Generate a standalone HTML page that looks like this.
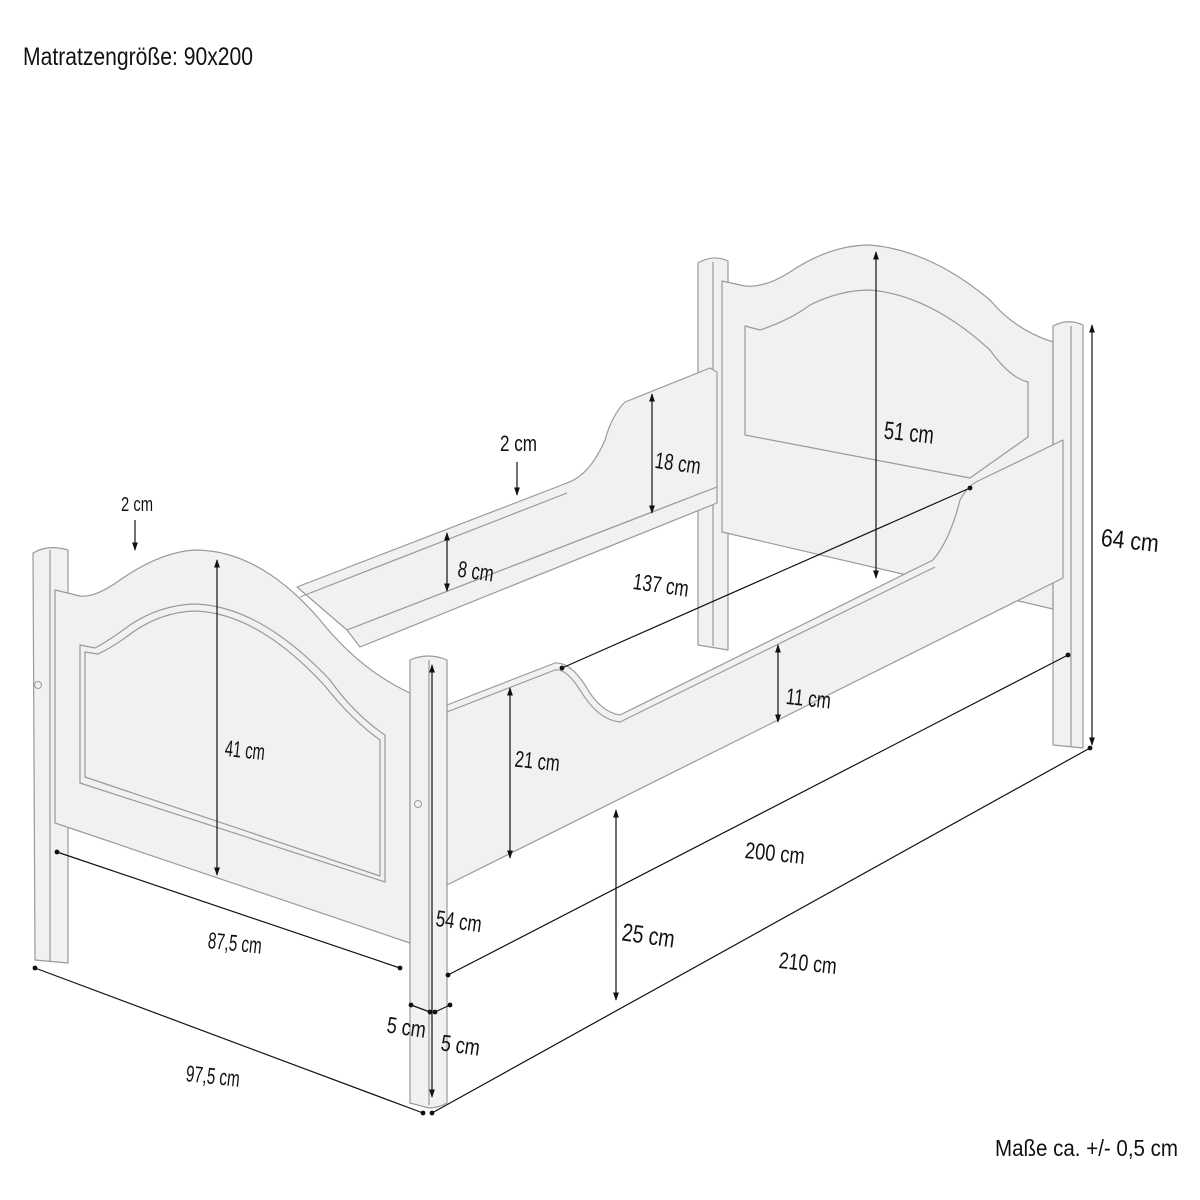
<!DOCTYPE html>
<html><head><meta charset="utf-8"><style>
html,body{margin:0;padding:0;background:#fff;}
svg{display:block;}
text{font-family:"Liberation Sans",sans-serif;fill:#111;}
</style></head><body>
<svg width="1200" height="1200" viewBox="0 0 1200 1200" xmlns="http://www.w3.org/2000/svg">
<defs>
<marker id="a" viewBox="0 0 10 10" refX="9" refY="5" markerWidth="7" markerHeight="7" orient="auto-start-reverse"><path d="M0,1.5 L10,5 L0,8.5 z" fill="#111"/></marker>
<marker id="d" viewBox="0 0 10 10" refX="5" refY="5" markerWidth="5" markerHeight="5"><circle cx="5" cy="5" r="4" fill="#111"/></marker>
</defs>
<rect width="1200" height="1200" fill="#fff"/>
<text x="23" y="65" font-size="25" textLength="230" lengthAdjust="spacingAndGlyphs">Matratzengröße: 90x200</text>
<text x="1178" y="1156" font-size="23" text-anchor="end" textLength="183" lengthAdjust="spacingAndGlyphs">Maße ca. +/- 0,5 cm</text>

<g fill="#f1f1f1" stroke="#9a9a9a" stroke-width="1.2" stroke-linejoin="round">
<path d="M698,263 Q713,254 728,261 L728,650 L698,645 Z"/>
<line x1="713" y1="262" x2="713" y2="646"/>
<path d="M722,281 L745,286 Q765,288 790,272 Q830,245 870,245 Q930,250 990,300 Q1015,330 1053,342 L1053,609 L722,532 Z"/>
<path d="M745,326 L760,330 Q790,320 810,305 Q840,290 870,290 Q930,295 990,350 Q1010,378 1028,382 L1028,437 L970,478 L745,435 Z" fill="none"/>
<path d="M1053,326 Q1068,318 1083,325 L1083,748 L1053,745 Z"/>
<line x1="1071" y1="326" x2="1071" y2="746"/>
<path d="M297,587 L567,483 Q590,475 605,440 Q612,415 625,402 L710,368 L717,372 L717,487 L347,630 Z"/>
<path d="M347,630 L717,487 L717,503 L360,647 Z"/>
<line x1="300" y1="597" x2="567" y2="493" />
<path d="M33,553 Q48,544 68,550 L68,963 L35,960 Z"/>
<line x1="50" y1="550" x2="50" y2="962"/>
<path d="M55,590 L80,596 Q95,598 120,580 Q160,552 195,550 Q260,550 320,620 Q360,670 410,693 L410,943 L55,823 Z"/>
<path d="M80,645 L95,648 Q110,640 130,625 Q160,605 195,604 Q260,606 330,680 Q355,715 385,735 L385,882 L80,783 Z" fill="none"/>
<path d="M85,652 L98,654 Q115,646 133,632 Q162,612 195,611 Q258,613 325,686 Q352,720 380,740 L380,876 L85,777 Z" fill="none"/>
<path d="M447,705 L555,663 Q570,662 585,685 Q600,712 620,715 L933,560 Q950,540 960,500 Q968,485 980,480 L1063,440 L1063,578 L447,885 Z"/>
<path d="M447,712 L555,670 Q566,668 580,690 Q598,720 620,722 L935,567" fill="none"/>
<path d="M410,660 Q428,652 447,660 L447,1103 Q438,1108 429,1108 L410,1103 Z"/>
<line x1="429" y1="660" x2="429" y2="1105"/>
</g>
<circle cx="38" cy="685" r="3.5" fill="none" stroke="#999"/>
<circle cx="418" cy="804" r="3.5" fill="none" stroke="#999"/>

<g stroke="#111" stroke-width="1.2" fill="none">
<line x1="135" y1="520" x2="135" y2="550" marker-end="url(#a)"/>
<line x1="517" y1="462" x2="517" y2="495" marker-end="url(#a)"/>
<line x1="217" y1="560" x2="217" y2="875" marker-start="url(#a)" marker-end="url(#a)"/>
<line x1="57" y1="852" x2="400" y2="968" marker-start="url(#d)" marker-end="url(#d)"/>
<line x1="35" y1="968" x2="423" y2="1113" marker-start="url(#d)" marker-end="url(#d)"/>
<line x1="432" y1="665" x2="432" y2="1097" marker-start="url(#a)" marker-end="url(#a)"/>
<line x1="411" y1="1005" x2="430" y2="1012" marker-start="url(#d)" marker-end="url(#d)"/>
<line x1="435" y1="1012" x2="450" y2="1005" marker-start="url(#d)" marker-end="url(#d)"/>
<line x1="432" y1="1113" x2="1090" y2="748" marker-start="url(#d)" marker-end="url(#d)"/>
<line x1="448" y1="975" x2="1068" y2="655" marker-start="url(#d)" marker-end="url(#d)"/>
<line x1="616" y1="810" x2="616" y2="1000" marker-start="url(#a)" marker-end="url(#a)"/>
<line x1="510" y1="688" x2="510" y2="858" marker-start="url(#a)" marker-end="url(#a)"/>
<line x1="778" y1="645" x2="778" y2="722" marker-start="url(#a)" marker-end="url(#a)"/>
<line x1="562" y1="668" x2="970" y2="488" marker-start="url(#d)" marker-end="url(#d)"/>
<line x1="876" y1="252" x2="876" y2="578" marker-start="url(#a)" marker-end="url(#a)"/>
<line x1="1092" y1="325" x2="1092" y2="745" marker-start="url(#a)" marker-end="url(#a)"/>
<line x1="652" y1="394" x2="652" y2="513" marker-start="url(#a)" marker-end="url(#a)"/>
<line x1="447" y1="533" x2="447" y2="591" marker-start="url(#a)" marker-end="url(#a)"/>
</g>

<g font-size="23">
<text x="121" y="511" font-size="20" textLength="32" lengthAdjust="spacingAndGlyphs">2 cm</text>
<text x="500" y="451" font-size="22" textLength="37" lengthAdjust="spacingAndGlyphs">2 cm</text>
<text x="225" y="758" textLength="40" lengthAdjust="spacingAndGlyphs" transform="rotate(6 245 750)">41 cm</text>
<text x="208" y="951" textLength="54" lengthAdjust="spacingAndGlyphs" transform="rotate(6 236 942)">87,5 cm</text>
<text x="186" y="1084" textLength="54" lengthAdjust="spacingAndGlyphs" transform="rotate(6 213 1075)">97,5 cm</text>
<text x="436" y="929" textLength="46" lengthAdjust="spacingAndGlyphs" transform="rotate(8 458 920)">54 cm</text>
<text x="387" y="1035" textLength="39" lengthAdjust="spacingAndGlyphs" transform="rotate(8 405 1027)">5 cm</text>
<text x="441" y="1053" textLength="39" lengthAdjust="spacingAndGlyphs" transform="rotate(8 460 1045)">5 cm</text>
<text x="779" y="971" textLength="58" lengthAdjust="spacingAndGlyphs" transform="rotate(6 808 962)">210 cm</text>
<text x="745" y="861" textLength="60" lengthAdjust="spacingAndGlyphs" transform="rotate(6 775 852)">200 cm</text>
<text x="622" y="944" font-size="25" textLength="53" lengthAdjust="spacingAndGlyphs" transform="rotate(8 648 935)">25 cm</text>
<text x="515" y="769" textLength="45" lengthAdjust="spacingAndGlyphs" transform="rotate(6 538 760)">21 cm</text>
<text x="786" y="706" textLength="45" lengthAdjust="spacingAndGlyphs" transform="rotate(6 806 698)">11 cm</text>
<text x="633" y="593" textLength="56" lengthAdjust="spacingAndGlyphs" transform="rotate(8 662 585)">137 cm</text>
<text x="884" y="441" font-size="25" textLength="50" lengthAdjust="spacingAndGlyphs" transform="rotate(6 908 432)">51 cm</text>
<text x="1101" y="549" font-size="25" textLength="58" lengthAdjust="spacingAndGlyphs" transform="rotate(6 1130 540)">64 cm</text>
<text x="655" y="471" textLength="46" lengthAdjust="spacingAndGlyphs" transform="rotate(8 678 462)">18 cm</text>
<text x="458" y="579" textLength="36" lengthAdjust="spacingAndGlyphs" transform="rotate(8 475 570)">8 cm</text>
</g>
</svg>
</body></html>
